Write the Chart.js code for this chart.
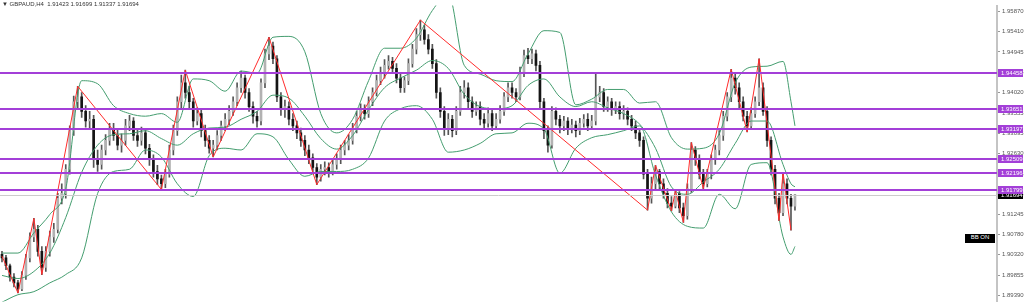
<!DOCTYPE html>
<html>
<head>
<meta charset="utf-8">
<title>GBPAUD H4</title>
<script src="https://cdn.jsdelivr.net/npm/chart.js@4.4.0/dist/chart.umd.min.js"></script>
<style>
    body { margin: 0; background: #fff; }
    #wrap { position: relative; width: 1024px; height: 307px; overflow: hidden; }
    #title { position: absolute; left: 2px; top: 1px; font: 6px "Liberation Sans", Arial, sans-serif; color: #333; white-space: pre; }
    #bbon { position: absolute; left: 965px; top: 234px; width: 30px; height: 9px; line-height: 9px; background: #000; color: #fff; font: 6px "Liberation Sans", Arial, sans-serif; text-align: center; }
</style>
</head>
<body>
<div id="wrap">
    <canvas id="priceChart" width="1024" height="307"></canvas>
    <div id="title">▼ GBPAUD,H4  1.91423 1.91699 1.91337 1.91694</div>
    <div id="bbon">BB ON</div>
</div>
<script>
// candles (oldest first, opens follow the previous close)
const firstOpen = 1.9033;
const closes = [
    1.9025, 1.9007, 1.8981, 1.8968, 1.8954, 1.8985, 1.9025, 1.9073, 1.9090, 1.9040,
    1.9003, 1.9040, 1.9073, 1.9090, 1.9161, 1.9172, 1.9227, 1.9315, 1.9381, 1.9392,
    1.9359, 1.9337, 1.9341, 1.9249, 1.9238, 1.9271, 1.9293, 1.9319, 1.9304, 1.9282,
    1.9293, 1.9326, 1.9337, 1.9304, 1.9293, 1.9310, 1.9275, 1.9249, 1.9222, 1.9205,
    1.9194, 1.9216, 1.9271, 1.9315, 1.9381, 1.9424, 1.9402, 1.9381, 1.9337, 1.9354,
    1.9315, 1.9293, 1.9275, 1.9282, 1.9304, 1.9326, 1.9341, 1.9359, 1.9381, 1.9413,
    1.9435, 1.9402, 1.9370, 1.9348, 1.9337, 1.9424, 1.9490, 1.9508, 1.9479, 1.9392,
    1.9363, 1.9370, 1.9341, 1.9326, 1.9310, 1.9293, 1.9271, 1.9253, 1.9231, 1.9209,
    1.9227, 1.9231, 1.9222, 1.9238, 1.9249, 1.9271, 1.9282, 1.9293, 1.9319, 1.9348,
    1.9363, 1.9354, 1.9381, 1.9402, 1.9429, 1.9446, 1.9464, 1.9473, 1.9457, 1.9435,
    1.9413, 1.9429, 1.9468, 1.9501, 1.9534, 1.9545, 1.9523, 1.9501, 1.9468, 1.9402,
    1.9359, 1.9319, 1.9341, 1.9315, 1.9359, 1.9402, 1.9413, 1.9381, 1.9359, 1.9370,
    1.9341, 1.9332, 1.9354, 1.9326, 1.9341, 1.9359, 1.9392, 1.9413, 1.9402, 1.9392,
    1.9446, 1.9486, 1.9479, 1.9490, 1.9464, 1.9381, 1.9315, 1.9282, 1.9359, 1.9341,
    1.9326, 1.9337, 1.9319, 1.9328, 1.9315, 1.9332, 1.9341, 1.9326, 1.9337, 1.9392,
    1.9402, 1.9370, 1.9381, 1.9363, 1.9370, 1.9354, 1.9359, 1.9341, 1.9326, 1.9310,
    1.9293, 1.9216, 1.9161, 1.9194, 1.9222, 1.9194, 1.9172, 1.9150, 1.9143, 1.9172,
    1.9139, 1.9121, 1.9183, 1.9271, 1.9249, 1.9216, 1.9194, 1.9216, 1.9249, 1.9271,
    1.9304, 1.9348, 1.9392, 1.9435, 1.9413, 1.9381, 1.9348, 1.9326, 1.9354, 1.9381,
    1.9413, 1.9359, 1.9293, 1.9227, 1.9161, 1.9128, 1.9194, 1.9161, 1.9143, 1.91694
];
const highs = [
    1.9040, 1.9031, 1.9011, 1.8989, 1.8974, 1.8994, 1.9033, 1.9082, 1.9115, 1.9099,
    1.9051, 1.9051, 1.9086, 1.9104, 1.9172, 1.9194, 1.9238, 1.9326, 1.9394, 1.9416,
    1.9402, 1.9372, 1.9359, 1.9350, 1.9271, 1.9282, 1.9306, 1.9332, 1.9332, 1.9319,
    1.9308, 1.9341, 1.9350, 1.9345, 1.9319, 1.9323, 1.9319, 1.9284, 1.9260, 1.9236,
    1.9214, 1.9227, 1.9282, 1.9328, 1.9392, 1.9442, 1.9453, 1.9416, 1.9389, 1.9367,
    1.9363, 1.9328, 1.9304, 1.9293, 1.9315, 1.9337, 1.9354, 1.9372, 1.9392, 1.9424,
    1.9451, 1.9442, 1.9411, 1.9381, 1.9359, 1.9433, 1.9501, 1.9528, 1.9517, 1.9486,
    1.9402, 1.9385, 1.9381, 1.9354, 1.9337, 1.9321, 1.9304, 1.9282, 1.9262, 1.9240,
    1.9238, 1.9244, 1.9242, 1.9249, 1.9262, 1.9282, 1.9293, 1.9306, 1.9332, 1.9359,
    1.9376, 1.9374, 1.9392, 1.9413, 1.9442, 1.9460, 1.9477, 1.9486, 1.9482, 1.9468,
    1.9446, 1.9438, 1.9479, 1.9512, 1.9548, 1.9567, 1.9556, 1.9534, 1.9512, 1.9477,
    1.9413, 1.9370, 1.9354, 1.9350, 1.9370, 1.9416, 1.9429, 1.9424, 1.9392, 1.9381,
    1.9381, 1.9354, 1.9367, 1.9363, 1.9354, 1.9372, 1.9402, 1.9424, 1.9424, 1.9411,
    1.9460, 1.9499, 1.9503, 1.9501, 1.9499, 1.9473, 1.9389, 1.9326, 1.9370, 1.9367,
    1.9350, 1.9348, 1.9345, 1.9341, 1.9337, 1.9343, 1.9352, 1.9354, 1.9350, 1.9446,
    1.9416, 1.9411, 1.9392, 1.9389, 1.9381, 1.9381, 1.9372, 1.9367, 1.9350, 1.9337,
    1.9319, 1.9301, 1.9227, 1.9209, 1.9236, 1.9227, 1.9205, 1.9183, 1.9165, 1.9178,
    1.9176, 1.9150, 1.9194, 1.9288, 1.9279, 1.9260, 1.9227, 1.9227, 1.9260, 1.9282,
    1.9315, 1.9359, 1.9402, 1.9455, 1.9446, 1.9424, 1.9392, 1.9359, 1.9367, 1.9392,
    1.9479, 1.9424, 1.9370, 1.9301, 1.9236, 1.9172, 1.9220, 1.9205, 1.9170, 1.91699
];
const lows = [
    1.9016, 1.8998, 1.8972, 1.8959, 1.8945, 1.8950, 1.8976, 1.9016, 1.9062, 1.9029,
    1.8987, 1.8994, 1.9029, 1.9060, 1.9082, 1.9148, 1.9161, 1.9216, 1.9304, 1.9363,
    1.9345, 1.9323, 1.9319, 1.9231, 1.9222, 1.9227, 1.9260, 1.9282, 1.9293, 1.9271,
    1.9266, 1.9282, 1.9315, 1.9293, 1.9279, 1.9282, 1.9262, 1.9236, 1.9209, 1.9192,
    1.9181, 1.9185, 1.9209, 1.9260, 1.9304, 1.9367, 1.9389, 1.9363, 1.9323, 1.9328,
    1.9301, 1.9279, 1.9264, 1.9255, 1.9271, 1.9293, 1.9315, 1.9328, 1.9350, 1.9372,
    1.9402, 1.9389, 1.9359, 1.9332, 1.9323, 1.9328, 1.9413, 1.9477, 1.9468, 1.9381,
    1.9350, 1.9345, 1.9328, 1.9315, 1.9297, 1.9279, 1.9258, 1.9240, 1.9218, 1.9192,
    1.9200, 1.9214, 1.9209, 1.9214, 1.9227, 1.9240, 1.9260, 1.9271, 1.9284, 1.9310,
    1.9337, 1.9341, 1.9345, 1.9372, 1.9394, 1.9420, 1.9435, 1.9455, 1.9446, 1.9424,
    1.9402, 1.9402, 1.9420, 1.9460, 1.9490, 1.9521, 1.9512, 1.9490, 1.9457, 1.9389,
    1.9345, 1.9304, 1.9306, 1.9301, 1.9306, 1.9350, 1.9389, 1.9367, 1.9345, 1.9350,
    1.9328, 1.9319, 1.9323, 1.9315, 1.9319, 1.9332, 1.9350, 1.9381, 1.9389, 1.9381,
    1.9385, 1.9438, 1.9468, 1.9468, 1.9451, 1.9363, 1.9297, 1.9266, 1.9275, 1.9328,
    1.9310, 1.9315, 1.9306, 1.9310, 1.9301, 1.9306, 1.9323, 1.9315, 1.9319, 1.9328,
    1.9381, 1.9359, 1.9359, 1.9350, 1.9354, 1.9341, 1.9341, 1.9328, 1.9315, 1.9297,
    1.9279, 1.9205, 1.9134, 1.9150, 1.9183, 1.9183, 1.9161, 1.9139, 1.9132, 1.9139,
    1.9128, 1.9106, 1.9113, 1.9174, 1.9236, 1.9205, 1.9183, 1.9187, 1.9205, 1.9238,
    1.9260, 1.9293, 1.9337, 1.9381, 1.9398, 1.9367, 1.9337, 1.9312, 1.9319, 1.9345,
    1.9372, 1.9350, 1.9279, 1.9214, 1.9148, 1.9110, 1.9121, 1.9148, 1.9088, 1.91337
];

// bollinger bands at these candle numbers
const bandIdx = [
    0, 4, 8, 12, 16, 20, 24, 28, 32, 36, 40, 44, 48, 52, 56, 60, 64, 68, 72, 76,
    80, 84, 88, 92, 96, 100, 104, 108, 112, 116, 120, 124, 128, 132, 136, 140, 144, 148, 152, 156,
    160, 164, 168, 172, 176, 180, 184, 188, 192, 196, 198, 199
];
const bbUpper = [
    1.9036, 1.9036, 1.9082, 1.9124, 1.9183, 1.9429, 1.9422, 1.9372, 1.9354, 1.9348,
    1.9354, 1.9334, 1.9433, 1.9429, 1.9405, 1.9451, 1.9446, 1.9528, 1.9530, 1.9495,
    1.9354, 1.9310, 1.9341, 1.9429, 1.9503, 1.9503, 1.9526, 1.9589, 1.9627, 1.9464,
    1.9444, 1.9429, 1.9427, 1.9490, 1.9543, 1.9539, 1.9374, 1.9387, 1.9409, 1.9409,
    1.9378, 1.9381, 1.9299, 1.9273, 1.9275, 1.9308, 1.9424, 1.9460, 1.9462, 1.9473,
    1.9381, 1.9326
];
const bbMiddle = [
    1.8985, 1.8978, 1.8994, 1.9036, 1.9117, 1.9220, 1.9282, 1.9306, 1.9308, 1.9315,
    1.9297, 1.9282, 1.9308, 1.9321, 1.9323, 1.9341, 1.9359, 1.9396, 1.9389, 1.9348,
    1.9297, 1.9273, 1.9304, 1.9363, 1.9413, 1.9435, 1.9453, 1.9475, 1.9457, 1.9398,
    1.9370, 1.9365, 1.9372, 1.9418, 1.9433, 1.9392, 1.9370, 1.9381, 1.9367, 1.9354,
    1.9330, 1.9275, 1.9187, 1.9170, 1.9198, 1.9227, 1.9286, 1.9337, 1.9337, 1.9238,
    1.9194, 1.9187
];
const bbLower = [
    1.8924, 1.8941, 1.8948, 1.8968, 1.8987, 1.9025, 1.9172, 1.9222, 1.9227, 1.9271,
    1.9255, 1.9194, 1.9165, 1.9258, 1.9275, 1.9271, 1.9308, 1.9301, 1.9249, 1.9211,
    1.9222, 1.9222, 1.9227, 1.9253, 1.9337, 1.9365, 1.9372, 1.9341, 1.9266, 1.9271,
    1.9286, 1.9308, 1.9310, 1.9332, 1.9319, 1.9218, 1.9275, 1.9299, 1.9306, 1.9315,
    1.9326, 1.9214, 1.9130, 1.9097, 1.9093, 1.9170, 1.9137, 1.9238, 1.9242, 1.9073,
    1.9033, 1.9051
];

// zigzag turning points
const zigIdx = [0, 4, 8, 10, 19, 40, 46, 53, 67, 79, 105, 162, 164, 168, 169, 171, 173, 176, 183, 187, 190, 195, 196, 198];
const zigVals = [
    1.9029, 1.8945, 1.9115, 1.8987, 1.9416, 1.9181, 1.9453, 1.9255, 1.9528, 1.9192, 1.9567, 1.9134,
    1.9236, 1.9132, 1.9178, 1.9106, 1.9288, 1.9183, 1.9455, 1.9312, 1.9479, 1.9110, 1.9220, 1.9088
];

// horizontal levels and price axis
const levels = [1.94458, 1.93651, 1.93197, 1.92509, 1.92196, 1.91799];
const lastPrice = 1.91694;
const tickVals = [
    1.95870, 1.95410, 1.94945, 1.94485, 1.94020, 1.93555, 1.93095, 1.92630,
    1.92165, 1.91705, 1.91245, 1.90780, 1.90320, 1.89855, 1.89390
];

const opens = [firstOpen].concat(closes.slice(0, -1));
const wickData = closes.map((c, i) => ({ x: i, y: [lows[i], highs[i]] }));
const bodyData = closes.map((c, i) => ({ x: i, y: [opens[i], c] }));
const toPoints = (xs, ys) => xs.map((x, k) => ({ x: x, y: ys[k] }));

const AXIS_FONT = "'Liberation Sans', Arial, sans-serif";
const LEVEL_COLOR = "#a33fd8";
const BAND_COLOR = "#449d6f";

// purple levels + the gray last price line, then their boxes on the price axis
const levelsPlugin = {
    id: "levels",
    afterDatasetsDraw(chart) {
        const { ctx, chartArea, scales } = chart;
        ctx.save();
        const py = Math.round(scales.y.getPixelForValue(lastPrice)) + 0.5;
        ctx.strokeStyle = "#cccccc";
        ctx.lineWidth = 1;
        ctx.beginPath();
        ctx.moveTo(chartArea.left, py);
        ctx.lineTo(chartArea.right, py);
        ctx.stroke();

        ctx.strokeStyle = LEVEL_COLOR;
        ctx.lineWidth = 2;
        levels.forEach(function (v) {
            const y = Math.round(scales.y.getPixelForValue(v));
            ctx.beginPath();
            ctx.moveTo(chartArea.left, y);
            ctx.lineTo(chartArea.right, y);
            ctx.stroke();
        });
        ctx.restore();
    },
    afterDraw(chart) {
        const { ctx, chartArea, scales } = chart;
        ctx.save();
        ctx.font = "6px " + AXIS_FONT;
        ctx.textBaseline = "middle";
        const x0 = chartArea.right + 1;
        const drawBox = function (v, bg) {
            const y = Math.round(scales.y.getPixelForValue(v));
            ctx.fillStyle = bg;
            ctx.fillRect(x0, y - 4, 25, 8);
            ctx.fillStyle = "#ffffff";
            ctx.fillText(v.toFixed(5), x0 + 3, y + 0.5);
        };
        drawBox(lastPrice, "#000000");
        levels.forEach(function (v) { drawBox(v, LEVEL_COLOR); });
        ctx.restore();
    }
};

const canvas = document.getElementById("priceChart").getContext("2d");

const priceChart = new Chart(canvas, {
    type: "bar",
    data: {
        datasets: [
            {
                type: "line",
                label: "ZigZag",
                data: toPoints(zigIdx, zigVals),
                borderColor: "#ff2b2b",
                borderWidth: 1,
                pointRadius: 0,
                tension: 0
            },
            {
                type: "line",
                label: "BB upper",
                data: toPoints(bandIdx, bbUpper),
                borderColor: BAND_COLOR,
                borderWidth: 1,
                pointRadius: 0,
                cubicInterpolationMode: "monotone"
            },
            {
                type: "line",
                label: "BB middle",
                data: toPoints(bandIdx, bbMiddle),
                borderColor: BAND_COLOR,
                borderWidth: 1,
                pointRadius: 0,
                cubicInterpolationMode: "monotone"
            },
            {
                type: "line",
                label: "BB lower",
                data: toPoints(bandIdx, bbLower),
                borderColor: BAND_COLOR,
                borderWidth: 1,
                pointRadius: 0,
                cubicInterpolationMode: "monotone"
            },
            {
                label: "bodies",
                data: bodyData,
                backgroundColor: (ctx) => {
                    const i = ctx.dataIndex;
                    return closes[i] >= opens[i] ? "#b2b2b2" : "#151515";
                },
                borderWidth: 0,
                borderSkipped: false,
                barThickness: 2,
                minBarLength: 1,
                grouped: false
            },
            {
                label: "wicks",
                data: wickData,
                backgroundColor: "#555555",
                borderWidth: 0,
                borderSkipped: false,
                barThickness: 1,
                grouped: false
            }
        ]
    },
    options: {
        responsive: false,
        animation: false,
        events: [],
        layout: { padding: 0 },
        plugins: {
            legend: { display: false },
            tooltip: { enabled: false }
        },
        scales: {
            x: {
                type: "linear",
                display: false,
                offset: false,
                min: -0.5,
                max: 249.7
            },
            y: {
                type: "linear",
                position: "right",
                min: 1.89258,
                max: 1.96002,
                afterBuildTicks: (scale) => {
                    scale.ticks = tickVals.map((v) => ({ value: v }));
                },
                afterFit: (scale) => {
                    scale.width = 27;
                },
                ticks: {
                    color: "#555555",
                    padding: 2,
                    font: { size: 6, family: AXIS_FONT },
                    callback: (v) => Number(v).toFixed(5)
                },
                grid: {
                    drawOnChartArea: false,
                    drawTicks: true,
                    tickLength: 3,
                    color: "#999999"
                },
                border: { display: true, color: "#c4c4c4", width: 2 }
            }
        }
    },
    plugins: [levelsPlugin]
});
</script>
</body>
</html>
